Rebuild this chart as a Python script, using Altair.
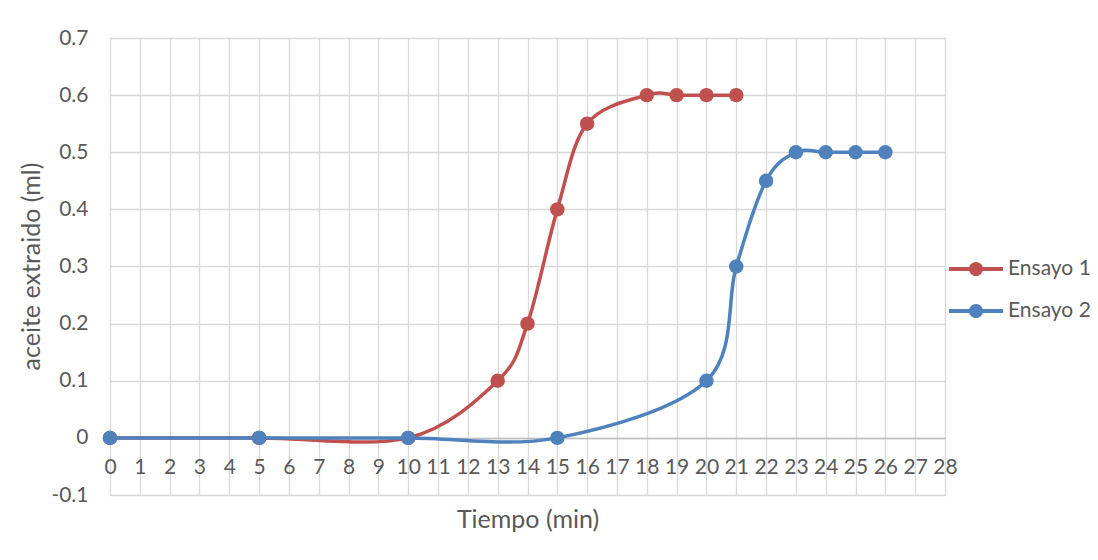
import altair as alt
import pandas as pd

t1 = [0, 5, 10, 13, 14, 15, 16, 18, 19, 20, 21]
v1 = [0, 0, 0, 0.1, 0.2, 0.4, 0.55, 0.6, 0.6, 0.6, 0.6]
t2 = [0, 5, 10, 15, 20, 21, 22, 23, 24, 25, 26]
v2 = [0, 0, 0, 0, 0.1, 0.3, 0.45, 0.5, 0.5, 0.5, 0.5]
series = ["Ensayo 1", "Ensayo 2"]
colors = ["#C0504D", "#4F81BD"]
x_ticks = list(range(0, 29))
y_ticks = [-0.1, 0, 0.1, 0.2, 0.3, 0.4, 0.5, 0.6, 0.7]

df = pd.DataFrame(
    {"t": t1 + t2, "v": v1 + v2, "s": [series[0]] * len(t1) + [series[1]] * len(t2)}
)
df["serie"] = df["s"]

FONT = "Lato"
FS = 21
TFS = 25
GRAY = "#595959"
GRID = "#d9d9d9"

x = alt.X(
    "t:Q",
    scale=alt.Scale(domain=[0, 28], nice=False, zero=False),
    axis=alt.Axis(
        values=x_ticks,
        title="Tiempo (min)",
        offset=-57.1,
        grid=True,
        gridColor=GRID,
        gridWidth=1.3,
        domainColor="#bfbfbf",
        domainWidth=1.5,
        ticks=False,
        labelPadding=19,
        labelOverlap=False,
        labelFlush=False,
        labelBound=False,
        labelFont=FONT,
        labelFontSize=FS,
        labelColor=GRAY,
        titleFont=FONT,
        titleFontSize=TFS,
        titleColor=GRAY,
        titleFontWeight="normal",
        titleBaseline="middle",
        titleY=82,
    ),
)
y = alt.Y(
    "v:Q",
    scale=alt.Scale(domain=[-0.1, 0.7], nice=False, zero=False),
    axis=alt.Axis(
        values=y_ticks,
        title="aceite extraido (ml)",
        grid=True,
        gridColor=GRID,
        gridWidth=1.3,
        domain=False,
        ticks=False,
        labelPadding=22,
        labelExpr="datum.value == 0 ? '0' : replace(format(datum.value, '.1f'), '\u2212', '-')",
        labelFont=FONT,
        labelFontSize=FS,
        labelColor=GRAY,
        titleFont=FONT,
        titleFontSize=TFS,
        titleColor=GRAY,
        titleFontWeight="normal",
        titleBaseline="middle",
        titleAlign="center",
        titleAngle=270,
        titleX=-79,
        titleY=228,
    ),
)

line = alt.Chart(df).mark_line(interpolate="cardinal", strokeWidth=3.5).encode(
    x=x,
    y=y,
    stroke=alt.Stroke("s:N", scale=alt.Scale(domain=series, range=colors), legend=None),
    detail="s:N",
)

legend_path = (
    "M-1,-0.07H1V0.07H-1Z "
    "M-0.26,0A0.26,0.26 0 1,1 0.26,0A0.26,0.26 0 1,1 -0.26,0Z"
)

points = alt.Chart(df).mark_circle(size=210, opacity=1).encode(
    x=x,
    y=y,
    fill=alt.Fill(
        "serie:N",
        scale=alt.Scale(domain=series, range=colors),
        legend=alt.Legend(
            title=None,
            orient="none",
            legendX=839,
            legendY=204,
            symbolType=legend_path,
            symbolSize=2916,
            symbolStrokeWidth=0,
            symbolOpacity=1,
            labelFont=FONT,
            labelFontSize=21,
            labelColor=GRAY,
            labelOffset=5,
            rowPadding=5,
            padding=0,
        ),
    ),
)

chart = (
    alt.layer(line, points)
    .resolve_scale(stroke="independent", fill="independent")
    .properties(
        width=835,
        height=457,
        autosize=alt.AutoSizeParams(type="none"),
        padding={"left": 102, "top": 30, "right": 145, "bottom": 57},
    )
    .configure_view(stroke=None)
    .configure(background="white")
)

chart.save("out.html", embed_options={"renderer": "svg", "actions": False})
